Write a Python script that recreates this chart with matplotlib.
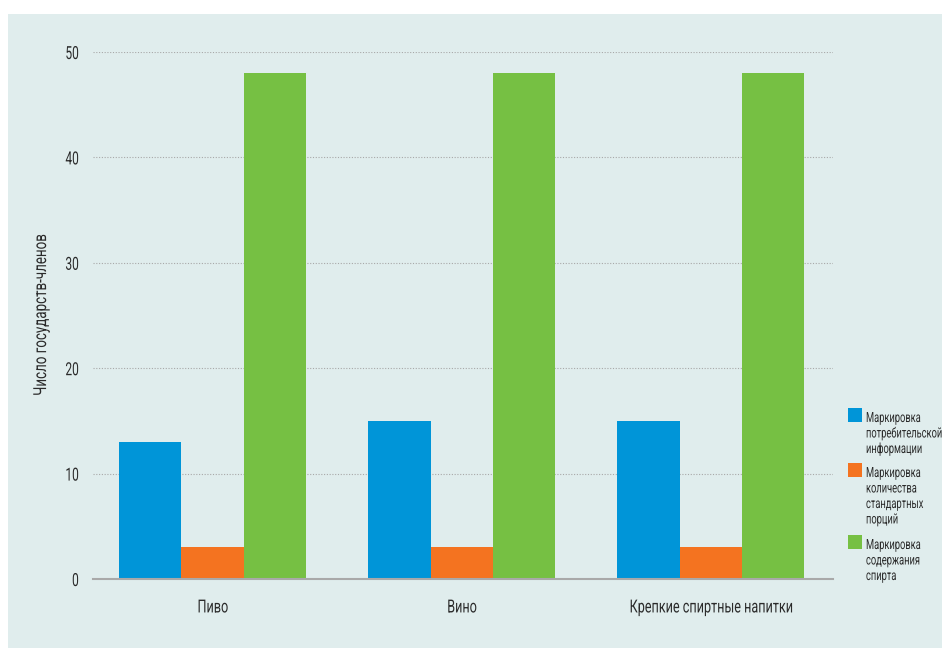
import matplotlib
matplotlib.use('Agg')
import matplotlib.pyplot as plt
import numpy as np
from matplotlib.patches import Rectangle
from matplotlib.patheffects import AbstractPathEffect
from matplotlib.transforms import Affine2D

# Категории напитков и число государств-членов по типу маркировки
categories = ['Пиво', 'Вино', 'Крепкие спиртные напитки']
consumer_info = [13, 15, 15]
standard_drinks = [3, 3, 3]
alcohol_content = [48, 48, 48]

series_labels = ['Маркировка\nпотребительской\nинформации',
                 'Маркировка\nколичества\nстандартных\nпорций',
                 'Маркировка\nсодержания\nспирта']
colors = ['#0095d8', '#f47320', '#76c043']
y_ticks = [0, 10, 20, 30, 40, 50]


class Squeeze(AbstractPathEffect):
    """Узкое начертание: масштабирует глифы относительно базовой линии."""

    def __init__(self, sx=1.0, sy=1.0, anchor='center'):
        super().__init__()
        self.sx = sx
        self.sy = sy
        self.anchor = anchor

    def draw_path(self, renderer, gc, tpath, affine, rgbFace=None):
        ext = tpath.get_extents()
        if self.anchor == 'left':
            cx = 0
        elif self.anchor == 'right':
            cx = ext.x1
        else:
            cx = (ext.x0 + ext.x1) / 2
        t = Affine2D().translate(-cx, 0).scale(self.sx, self.sy).translate(cx, 0) + affine
        renderer.draw_path(gc, tpath, t, rgbFace)


plt.rcParams['font.family'] = ['Roboto', 'DejaVu Sans']
text_color = '#2b2b2b'
panel_color = '#e0eded'

fig = plt.figure(figsize=(9.42, 6.48), dpi=100, facecolor='white')

# фоновая панель
fig.patches.append(Rectangle((8 / 942, 0), 1, 1 - 14 / 648, transform=fig.transFigure,
                             facecolor=panel_color, edgecolor='none', zorder=-5))

ax = fig.add_axes([93 / 942, 1 - 579 / 648, (833 - 93) / 942, (579 - 52) / 648])
ax.set_facecolor('none')

x = np.arange(len(categories))
w = 0.25
for i, vals in enumerate([consumer_info, standard_drinks, alcohol_content]):
    ax.bar(x + (i - 1) * w, vals, width=w, color=colors[i], zorder=3)

ax.set_xlim(-0.48, 2.49)
ax.set_ylim(0, 50)
ax.set_yticks(y_ticks)
ax.set_yticklabels([str(t) for t in y_ticks], fontsize=13, color=text_color)
ax.set_xticks(x)
ax.set_xticklabels(categories, fontsize=13, color=text_color)
ax.tick_params(axis='both', length=0)
ax.tick_params(axis='y', pad=10)
ax.tick_params(axis='x', pad=14)
for lab in ax.get_yticklabels():
    lab.set_path_effects([Squeeze(sx=0.66, anchor='right')])
for lab in ax.get_xticklabels():
    lab.set_path_effects([Squeeze(sx=0.7)])

ax.grid(axis='y', linestyle=(0, (1, 1.5)), color='#a8a8a8', linewidth=0.8, zorder=1)
for s in ['top', 'right', 'left']:
    ax.spines[s].set_visible(False)
ax.spines['bottom'].set_color('#a9a9a9')
ax.spines['bottom'].set_linewidth(1.5)
ax.spines['bottom'].set_zorder(4)

ylab = ax.set_ylabel('Число государств-членов', fontsize=13, color=text_color)
ylab.set_path_effects([Squeeze(sx=0.74)])
ax.yaxis.set_label_coords(-0.058, 0.5)

# легенда справа: квадрат и подпись построчно
legend_tops = [408, 463, 535]
line_step = 15.5
for top, lab, c in zip(legend_tops, series_labels, colors):
    fig.patches.append(Rectangle((848 / 942, 1 - (top + 14) / 648), 14 / 942, 14 / 648,
                                 transform=fig.transFigure, facecolor=c, edgecolor='none'))
    for k, line in enumerate(lab.split('\n')):
        base = top + 14 + k * line_step
        t = fig.text(866 / 942, 1 - base / 648, line, fontsize=6.7, color=text_color,
                     va='baseline', ha='left')
        t.set_path_effects([Squeeze(sy=1.51, anchor='left')])

fig.savefig('out.png', dpi=100, facecolor='white')
